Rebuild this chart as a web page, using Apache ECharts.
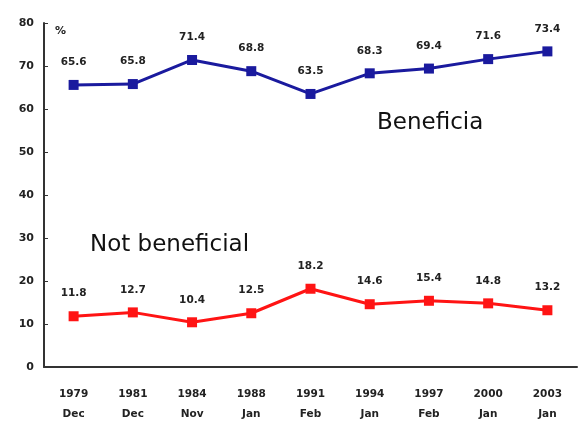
<!DOCTYPE html>
<html>
<head>
<meta charset="utf-8">
<script src="https://cdn.jsdelivr.net/npm/echarts@6/dist/echarts.min.js"></script>
<style>
  html, body { margin: 0; padding: 0; background: #fff; }
  #chart { width: 579px; height: 441px; }
</style>
</head>
<body>
<div id="chart"></div>
<script>
// Survey periods (year / month)
const categories = ['1979\nDec', '1981\nDec', '1984\nNov', '1988\nJan', '1991\nFeb',
                    '1994\nJan', '1997\nFeb', '2000\nJan', '2003\nJan'];
// Share of respondents (%)
const beneficial = [65.6, 65.8, 71.4, 68.8, 63.5, 68.3, 69.4, 71.6, 73.4];
const notBeneficial = [11.8, 12.7, 10.4, 12.5, 18.2, 14.6, 15.4, 14.8, 13.2];
const yTicks = { min: 0, max: 80, interval: 10 };

const FONT = 'DejaVu Sans';
const chart = echarts.init(document.getElementById('chart'));
const labelStyle = {
  show: true, position: 'top', distance: 12,
  color: '#222', fontSize: 10.5, fontWeight: 'bold', fontFamily: FONT,
  formatter: p => p.value.toFixed(1)
};

chart.setOption({
  animation: false,
  backgroundColor: '#fff',
  grid: { left: 44, right: 2, top: 23, bottom: 74 },
  xAxis: {
    type: 'category',
    data: categories,
    boundaryGap: true,
    axisLine: { lineStyle: { color: '#333', width: 2 } },
    axisTick: { inside: true, length: 4, lineStyle: { color: '#333' } },
    axisLabel: { color: '#222', fontSize: 10.5, fontWeight: 'bold', fontFamily: FONT,
                 margin: 17, lineHeight: 20 }
  },
  yAxis: {
    type: 'value',
    min: yTicks.min, max: yTicks.max, interval: yTicks.interval,
    axisLine: { show: true, lineStyle: { color: '#333', width: 2 } },
    axisTick: { show: true, inside: true, length: 4, lineStyle: { color: '#333' } },
    splitLine: { show: false },
    axisLabel: { color: '#222', fontSize: 11, fontWeight: 'bold', fontFamily: FONT, margin: 10 }
  },
  graphic: [
    { type: 'text', left: 55, top: 26, style: { text: '%', fontSize: 11, fontWeight: 'bold', fill: '#222', fontFamily: FONT } },
    { type: 'text', left: 377, top: 112, style: { text: 'Beneficia', fontSize: 23, fill: '#111', fontFamily: FONT } },
    { type: 'text', left: 90, top: 234, style: { text: 'Not beneficial', fontSize: 23, fill: '#111', fontFamily: FONT } }
  ],
  series: [
    {
      name: 'Beneficial', type: 'line', data: beneficial,
      symbol: 'rect', symbolSize: 10,
      lineStyle: { color: '#1a1a9e', width: 3 },
      itemStyle: { color: '#1a1a9e' },
      label: labelStyle
    },
    {
      name: 'Not beneficial', type: 'line', data: notBeneficial,
      symbol: 'rect', symbolSize: 10,
      lineStyle: { color: '#ff1414', width: 3 },
      itemStyle: { color: '#ff1414' },
      label: labelStyle
    }
  ]
});
</script>
</body>
</html>
